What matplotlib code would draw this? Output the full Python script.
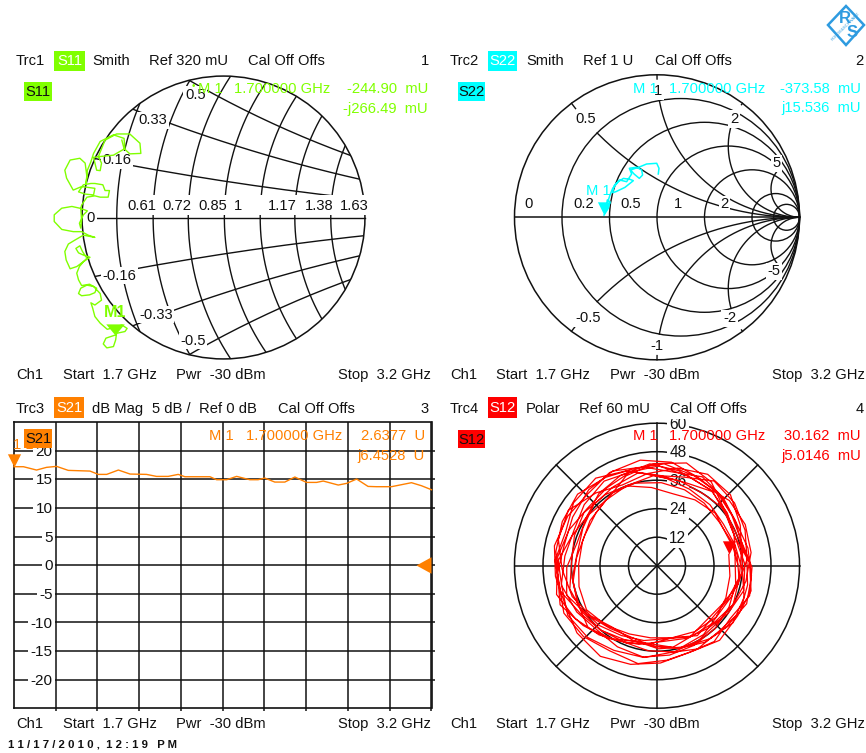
import numpy as np
import matplotlib
matplotlib.use("Agg")
import matplotlib.pyplot as plt
from matplotlib.patches import Circle, Rectangle, Polygon
from matplotlib.path import Path

plt.rcParams['font.family'] = ['Liberation Sans', 'DejaVu Sans']

W, H = 866, 753
GREEN, CYAN, ORANGE, RED = '#80FF00', '#00FFFF', '#FF8000', '#FF0000'
GRID = '#111111'
FS = 10.6

# ---------- data ----------
s11_re = [-245,-266,-272,-264,-249,-244,-242,-223,-218,-230,-245,-263,-279,-291,-296,-300,-291,-276,-279,-294,
          -309,-323,-328,-321,-303,-291,-287,-303,-321,-328,-332,-326,-317,-302,-317,-328,-334,-325,-319,-309,
          -317,-332,-347,-356,-359,-351,-336,-317,-291,-306,-321,-340,-366,-383,-383,-366,-343,-325,-308,-317,
          -326,-323,-321,-323,-321,-309,-291,-279,-261,-258,-268,-273,-291,-300,-317,-328,-313,-294,-291,-321,
          -340,-355,-359,-347,-325,-313,-309,-311,-308,-300,-294,-279,-249,-225,-223,-249,-279,-294,-287,-279,
          -276,-283,-268,-242,-212,-189,-187,-212,-225,-230]
s11_im = [-266,-273,-286,-295,-292,-277,-262,-258,-251,-243,-248,-253,-239,-224,-205,-193,-198,-187,-172,-156,
          -153,-160,-172,-177,-175,-170,-160,-151,-154,-141,-126,-111,-100,-90,-85,-80,-70,-64,-77,-92,
          -100,-111,-116,-96,-77,-60,-51,-40,-45,-40,-32,-32,-27,-9,6,21,25,21,15,6,
          -13,-24,-6,21,28,46,49,46,46,61,61,74,77,77,74,58,53,51,66,70,
          62,89,107,130,134,123,92,77,107,126,145,172,187,179,156,141,138,136,107,106,
          123,138,175,189,189,168,145,144,156,175]

s22_re = [-.372,-.342,-.330,-.349,-.353,-.330,-.311,-.271,-.236,-.189,-.166,-.225,-.288,-.311,-.302,
          -.264,-.213,-.178,-.194,-.143,-.108,-.101,-.124,-.161,-.185,-.119,-.073,-.002,.014,.009]
s22_im = [.016,.063,.110,.121,.086,.156,.203,.250,.273,.266,.257,.210,.180,.173,.220,
          .262,.250,.304,.344,.351,.332,.297,.273,.304,.332,.355,.374,.379,.344,.304]

s21_f = [1.700,1.734,1.781,1.817,1.853,1.895,1.973,2.003,2.033,2.075,2.117,2.176,2.212,2.254,2.290,2.314,2.404,
         2.428,2.464,2.500,2.547,2.577,2.601,2.637,2.673,2.709,2.751,2.787,2.811,2.865,2.895,2.931,2.972,3.002,
         3.056,3.128,3.164,3.200]
s21_db = [17.19,17.19,16.61,17.08,17.25,16.55,16.43,15.85,15.85,16.61,15.91,15.85,15.50,15.50,15.85,15.44,15.44,
          14.92,14.92,15.50,14.92,14.92,15.21,14.51,14.51,15.39,14.45,14.45,14.69,13.99,14.28,15.04,13.75,13.70,
          13.70,14.40,13.87,13.17]

s12_phase = [9,-8,-25,-41,-60,-78,-95,-112,-130,-148,-165,-181,-198,-214,-232,-249,-266,-283,-300,-318,-335,
             -352,-369,-387,-404,-421,-439,-456,-473,-491,-508,-525,-543,-560,-576,-594,-611,-628,-645,-663,-680,-697,
             -714,-732,-749,-766,-784,-801,-818,-836,-853,-870,-888,-905,-922,-939,-957,-974,-991,-1009,-1026,-1043,-1060,
             -1078,-1095,-1112,-1130,-1147,-1164,-1181,-1199,-1216,-1233,-1251,-1268,-1285,-1302,-1320,-1337,-1354,-1372,-1389,-1406,-1424,
             -1441,-1458,-1476,-1493,-1510,-1528,-1545,-1562,-1580,-1597,-1614,-1631,-1649,-1666,-1683,-1701,-1718,-1735,-1752,-1770,-1787,
             -1804,-1822,-1839,-1856,-1874,-1891,-1908,-1926,-1943,-1960,-1978,-1995,-2012,-2030,-2047,-2064,-2082,-2099,-2116,-2134,-2151,
             -2168,-2186,-2203,-2220,-2238,-2255,-2272,-2290,-2307,-2324,-2342,-2359,-2376,-2394,-2411,-2428,-2446,-2463,-2480,-2498,
             -2515,-2533,-2550,-2567,-2585,-2602,-2619,-2637,-2654,-2671,-2689,-2706,-2723,-2740,-2758,-2775,-2792,-2810,-2827,-2844,-2862,
             -2879,-2896,-2914,-2931,-2948,-2966,-2983,-3000,-3018,-3035,-3052,-3069,-3087,-3104,-3121,-3139,-3156,-3173,-3191,-3208,-3225,
             -3243,-3260,-3277,-3294,-3312,-3329,-3346,-3364,-3381,-3398,-3416,-3433,-3450,-3468,-3485,-3502,-3519,-3537,-3554,-3571,-3589,
             -3606,-3623,-3641,-3658,-3675,-3693,-3710,-3727,-3745,-3762,-3779,-3796,-3814,-3831,-3848,-3866,-3883,-3900,-3918,-3935,-3952,
             -3970,-3987,-4004,-4022,-4039,-4056,-4073,-4091,-4108,-4125,-4143,-4160,-4177,-4195,-4212,-4229,-4247,-4264,-4281,-4298,-4316,
             -4333,-4350,-4368,-4385,-4402,-4420,-4437,-4454,-4472,-4489,-4506,-4523,-4541,-4558,-4575,-4593,-4610,-4627,-4645,-4662,-4679]
s12_mag = [30.6,31,32,33,32,31,30.5,31,33,35,34,33,33,34,35,36,33,31,32,33,32,
           34,35,36,35,36,37,36,35,36,37,38,36,37,38,37,36,38,37,36,37,36,
           38,39,40,38,39,37,39,38,37,39,41,42,40,38,39,41,42,40,39,37,35,
           39,41,40,41,39,40,42,41,43,44,42,43,44,45,43,42,43,41,40,38,37,
           40,41,38,40,39,41,43,45,44,42,43,44,43,42,44,45,44,41,40,38,37,
           36,34,33,35,36,34,33,32,35,38,40,43,44,40,37,39,42,44,43,39,36,
           35,33,32,34,31,33,35,38,41,44,42,38,36,35,40,43,45,42,37,35,
           33,34,35,36,37,38,39,40,42,43,41,39,38,40,42,41,38,37,39,36,35,
           37,38,36,34,33,32,34,36,39,37,36,34,35,37,38,40,37,35,34,33,34,
           36,39,40,38,36,35,33,37,40,44,42,40,41,43,44,42,40,42,40,38,39,
           40,41,39,38,36,34,32,33,36,40,38,35,36,39,41,43,41,39,41,41,40,
           38,36,34,33,35,33,34,36,38,42,43,41,44,45,42,38,39,43,42,40,38,
           35,32,31,33,31,32,33,35,37,36,34,33,34,36,36,35,34,33,32,33,34]

s11_r_labels = ['0.61','0.72','0.85','1','1.17','1.38','1.63']
s11_r_label_pos = [-185,-106,-24,32,133,217,296]
s11_r = [0.51,0.61,0.72,0.85,1,1.17,1.38]
s11_x = [0.14,0.285,0.43]
s11_x_labels = [('0.16',-241,130), ('0.33',-159,220), ('0.5',-64,277),
                ('-0.16',-236,-132), ('-0.33',-153,-220), ('-0.5',-69,-279)]
s22_r = [0.2,0.5,1,2,5,10]
s22_x = [(0.5,0.2),(1,0.2),(2,0.5),(5,1)]
s22_labels = [('0',-.90,.09), ('0.2',-.515,.09), ('0.5',-.185,.09), ('1',.145,.09), ('2',.475,.09),
              ('0.5',-.50,.69), ('1',.01,.885), ('2',.54,.69), ('5',.84,.38),
              ('-0.5',-.48,-.71), ('-1',0,-.90), ('-2',.51,-.71), ('-5',.82,-.38)]
db_ticks = [20,15,10,5,0,-5,-10,-15,-20]
rings = [12,24,36,48,60]

# ---------- helpers ----------
fig = plt.figure(figsize=(W/100, H/100), dpi=100, facecolor='white')

def px_axes(x0, y0, x1, y1):
    return fig.add_axes([x0/W, 1-y1/H, (x1-x0)/W, (y1-y0)/H])

def T(x, y, s, color='#111111', ha='left', size=FS, **kw):
    return fig.text(x/W, 1-(y+0.6)/H, s, color=color, ha=ha, va='center', fontsize=size, zorder=20, **kw)

def tag(x0, y0, x1, y1, s, bg, fg):
    fig.add_artist(Rectangle((x0/W, 1-y1/H), (x1-x0)/W, (y1-y0)/H, transform=fig.transFigure,
                             facecolor=bg, edgecolor='none', zorder=18))
    T((x0+x1)/2, (y0+y1)/2, s, color=fg, ha='center')

def smith_axes(x0, y0, x1, y1, cx, cy, scale):
    ax = px_axes(x0, y0, x1, y1)
    ax.set_xlim((x0-cx)/scale, (x1-cx)/scale)
    ax.set_ylim((cy-y1)/scale, (cy-y0)/scale)
    ax.axis('off')
    return ax

WIDE = Path([(-1, 1.2), (1, 1.2), (0, 0), (-1, 1.2)], closed=True)
DOWN = Path([(-.5, 1), (.5, 1), (0, 0), (-.5, 1)], closed=True)
LEFT = Path([(0, .55), (0, -.55), (-1, 0), (0, .55)], closed=True)
lab_box = dict(facecolor='white', edgecolor='none', pad=1.2)

# ---------- S11 zoomed Smith ----------
PX11 = 0.442                 # pixels per mU
ax = smith_axes(0, 45, 433, 385, 223.5, 217.5, PX11)
R11 = 320
clip = Circle((0, 0), R11, transform=ax.transData)
ax.add_patch(Circle((0, 0), R11, fc='none', ec=GRID, lw=1.1, zorder=3))
SHIFT = 83                   # grid centre offset in the zoomed view, mU
th = np.linspace(0, 2*np.pi, 1200)
for r in s11_r:
    c = 1000*r/(1+r) + SHIFT
    rad = 1000/(1+r)
    l, = ax.plot(c + rad*np.cos(th), rad*np.sin(th), color=GRID, lw=1.0, zorder=2)
    l.set_clip_path(clip)
for x in s11_x:
    rad = 1000/x
    for sgn in (1, -1):
        l, = ax.plot(1000 + SHIFT + rad*np.cos(th), sgn*rad + rad*np.sin(th), color=GRID, lw=1.0, zorder=2)
        l.set_clip_path(clip)
ax.plot([-286, 320], [0, 0], color=GRID, lw=1.0, zorder=2)
# white strip that carries the resistance labels
ax.add_patch(Rectangle((-218, 5.6), 549, 45.4, fc='white', ec='none', zorder=3.5))
for lab, xp in zip(s11_r_labels, s11_r_label_pos):
    ax.text(xp, 26, lab, ha='center', va='center', fontsize=FS, color='#111111', zorder=4)
ax.text(-300, 0, '0', ha='center', va='center', fontsize=FS, color='#111111', bbox=lab_box, zorder=4)
for lab, xp, yp in s11_x_labels:
    ax.text(xp, yp, lab, ha='center', va='center', fontsize=FS, color='#111111', bbox=lab_box, zorder=4)
ax.plot(s11_re, s11_im, color=GREEN, lw=1.0, zorder=6, clip_on=False)
ax.plot(s11_re[:1], s11_im[:1], marker=WIDE, ms=16, color=GREEN, mec='none', ls='none', zorder=7)
ax.text(s11_re[0], s11_im[0]+50, 'M1', ha='center', va='center', fontsize=FS+1, color=GREEN, zorder=8, weight='bold')

# ---------- S22 Smith ----------
ax = smith_axes(433, 45, 866, 385, 657, 217.3, 142.5)
ax.add_patch(Circle((0, 0), 1, fc='none', ec=GRID, lw=1.1, zorder=3))
for r in s22_r:
    ax.add_patch(Circle((r/(1+r), 0), 1/(1+r), fc='none', ec=GRID, lw=1.0, zorder=2))
for x, rmin in s22_x:
    for sgn in (1, -1):
        # arc of constant reactance from resistance rmin up to infinity
        rr = np.concatenate([np.linspace(rmin, 20, 300), np.linspace(20, 2000, 200)])
        g = ((rr + 1j*sgn*x) - 1)/((rr + 1j*sgn*x) + 1)
        ax.plot(g.real, g.imag, color=GRID, lw=1.0, zorder=2)
        # short tick on the rim
        if x <= 2:
            g0 = ((0.03 + 1j*sgn*x) - 1)/((0.03 + 1j*sgn*x) + 1)
            g1 = (1j*sgn*x - 1)/(1j*sgn*x + 1)
            ax.plot([g1.real, g0.real], [g1.imag, g0.imag], color=GRID, lw=1.0, zorder=2)
ax.plot([-1, 1], [0, 0], color=GRID, lw=1.1, zorder=3)
for lab, xp, yp in s22_labels:
    ax.text(xp, yp, lab, ha='center', va='center', fontsize=FS, color='#111111', bbox=lab_box, zorder=4)
ax.plot(s22_re, s22_im, color=CYAN, lw=1.1, zorder=6)
ax.plot(s22_re[:1], s22_im[:1], marker=DOWN, ms=19, color=CYAN, mec='none', ls='none', zorder=7)
ax.text(s22_re[0]-.04, s22_im[0]+.17, 'M 1', ha='center', va='center', fontsize=FS, color=CYAN, zorder=8)

# ---------- S21 dB Mag ----------
ax = px_axes(14, 422, 431.5, 708.3)
ax.set_xlim(1.7, 3.2)
ax.set_ylim(-25, 25)
ax.set_xticks(np.arange(1.85, 3.2, 0.15))
ax.set_yticks(db_ticks)
ax.tick_params(left=False, right=True, bottom=True, labelleft=False, labelbottom=False, length=2.2, width=1.1, color=GRID)
ax.grid(True, color=GRID, lw=1.1, zorder=1)
ax.set_axisbelow(True)
for s in ax.spines.values():
    s.set_linewidth(1.2)
    s.set_color(GRID)
for v in db_ticks:
    ax.text(1.838, v-0.2, str(v), ha='right', va='center', fontsize=FS+0.4, color='#111111', zorder=3,
            bbox=dict(facecolor='white', edgecolor='none', pad=1.6))
ax.plot(s21_f, s21_db, color=ORANGE, lw=1.0, zorder=6, clip_on=False)
ax.plot(s21_f[:1], s21_db[:1], marker=DOWN, ms=19, color=ORANGE, mec='none', ls='none', zorder=7, clip_on=False)
ax.plot([3.2], [0], marker=LEFT, ms=21.6, color=ORANGE, mec='none', ls='none', zorder=7, clip_on=False)
T(13, 444, '1 1', color=ORANGE, ha='left', size=FS)

# ---------- S12 polar ----------
ax = smith_axes(433, 418.5, 866, 714, 657, 565.7, 2.375)
ph = np.deg2rad(s12_phase)
for r in rings:
    ax.add_patch(Circle((0, 0), r, fc='none', ec=GRID, lw=1.1, zorder=2))
    t = ax.text(8.8, r-0.5, str(r), ha='center', va='center', fontsize=FS+0.6, color='#111111', zorder=3,
                bbox=dict(facecolor='white', edgecolor='none', pad=1.5))
    t.set_clip_on(True)
for a in np.deg2rad([0, 45, 135]):
    ax.plot([-60*np.cos(a), 60*np.cos(a)], [-60*np.sin(a), 60*np.sin(a)], color=GRID, lw=1.1, zorder=2)
ax.plot([0, 0], [-60, 60], color=GRID, lw=1.1, zorder=3.5)
ax.plot(np.array(s12_mag)*np.cos(ph), np.array(s12_mag)*np.sin(ph), color=RED, lw=0.9, zorder=6)
ax.plot([30.162], [5.0146], marker=DOWN, ms=19, color=RED, mec='none', ls='none', zorder=7)

# ---------- header / footer text ----------
T(16, 60, 'Trc1'); T(92, 60, 'Smith'); T(149, 60, 'Ref 320 mU'); T(248, 60, 'Cal Off Offs'); T(429, 60, '1', ha='right')
tag(54, 50.7, 85, 71, 'S11', GREEN, 'white'); tag(24, 82, 52, 101, 'S11', GREEN, '#111111')
T(450, 60, 'Trc2'); T(526, 60, 'Smith'); T(583, 60, 'Ref 1 U'); T(655, 60, 'Cal Off Offs'); T(864, 60, '2', ha='right')
tag(488, 50.7, 517, 70.7, 'S22', CYAN, 'white'); tag(458, 82, 485, 101, 'S22', CYAN, '#111111')
T(16, 408, 'Trc3'); T(92, 408, 'dB Mag'); T(152, 408, '5 dB /'); T(199, 408, 'Ref 0 dB'); T(278, 408, 'Cal Off Offs'); T(429, 408, '3', ha='right')
tag(54, 397, 84, 418, 'S21', ORANGE, 'white'); tag(24, 429, 52, 448, 'S21', ORANGE, '#111111')
T(450, 408, 'Trc4'); T(526, 408, 'Polar'); T(579, 408, 'Ref 60 mU'); T(670, 408, 'Cal Off Offs'); T(864, 408, '4', ha='right')
tag(488, 397, 517, 418, 'S12', RED, 'white'); tag(458, 430, 485, 448, 'S12', RED, '#111111')

for y, (x0, x1, x2, x3) in [(374, (16, 63, 176, 338)), (374, (450, 496, 610, 772)),
                            (723, (16, 63, 176, 338)), (723, (450, 496, 610, 772))]:
    T(x0, y, 'Ch1'); T(x1, y, 'Start  1.7 GHz'); T(x2, y, 'Pwr  -30 dBm'); T(x3, y, 'Stop  3.2 GHz')

T(192, 85, '•', GREEN, size=7)
T(198, 88, 'M 1', GREEN); T(234, 88, '1.700000 GHz', GREEN)
T(428, 88, '-244.90  mU', GREEN, ha='right'); T(428, 108, '-j266.49  mU', GREEN, ha='right')
T(633, 88, 'M 1', CYAN); T(669, 88, '1.700000 GHz', CYAN)
T(861, 88, '-373.58  mU', CYAN, ha='right'); T(861, 107, 'j15.536  mU', CYAN, ha='right')
T(209, 435, 'M 1', ORANGE); T(246, 435, '1.700000 GHz', ORANGE)
T(425, 435, '2.6377  U', ORANGE, ha='right'); T(425, 455, 'j6.4528  U', ORANGE, ha='right')
T(633, 435, 'M 1', RED); T(669, 435, '1.700000 GHz', RED)
T(861, 435, '30.162  mU', RED, ha='right'); T(861, 455, 'j5.0146  mU', RED, ha='right')

T(8, 744, '1 1 / 1 7 / 2 0 1 0 ,  1 2 : 1 9   P M', size=8.2, weight='bold')

# ---------- logo ----------
LOGO = '#2E9BE0'
fig.add_artist(Polygon([(846/W, 1-6/H), (864/W, 1-25/H), (846/W, 1-45/H), (828/W, 1-25/H)], closed=True,
                       transform=fig.transFigure, fc='white', ec=LOGO, lw=1.8, zorder=15))
T(845, 18, 'R', LOGO, ha='center', size=12, weight='bold')
T(852, 32, 'S', LOGO, ha='center', size=12, weight='bold')
T(846, 26, 'ROHDE&SCHWARZ', LOGO, ha='center', size=3, rotation=45)

fig.savefig('out.png', dpi=100, facecolor='white')
